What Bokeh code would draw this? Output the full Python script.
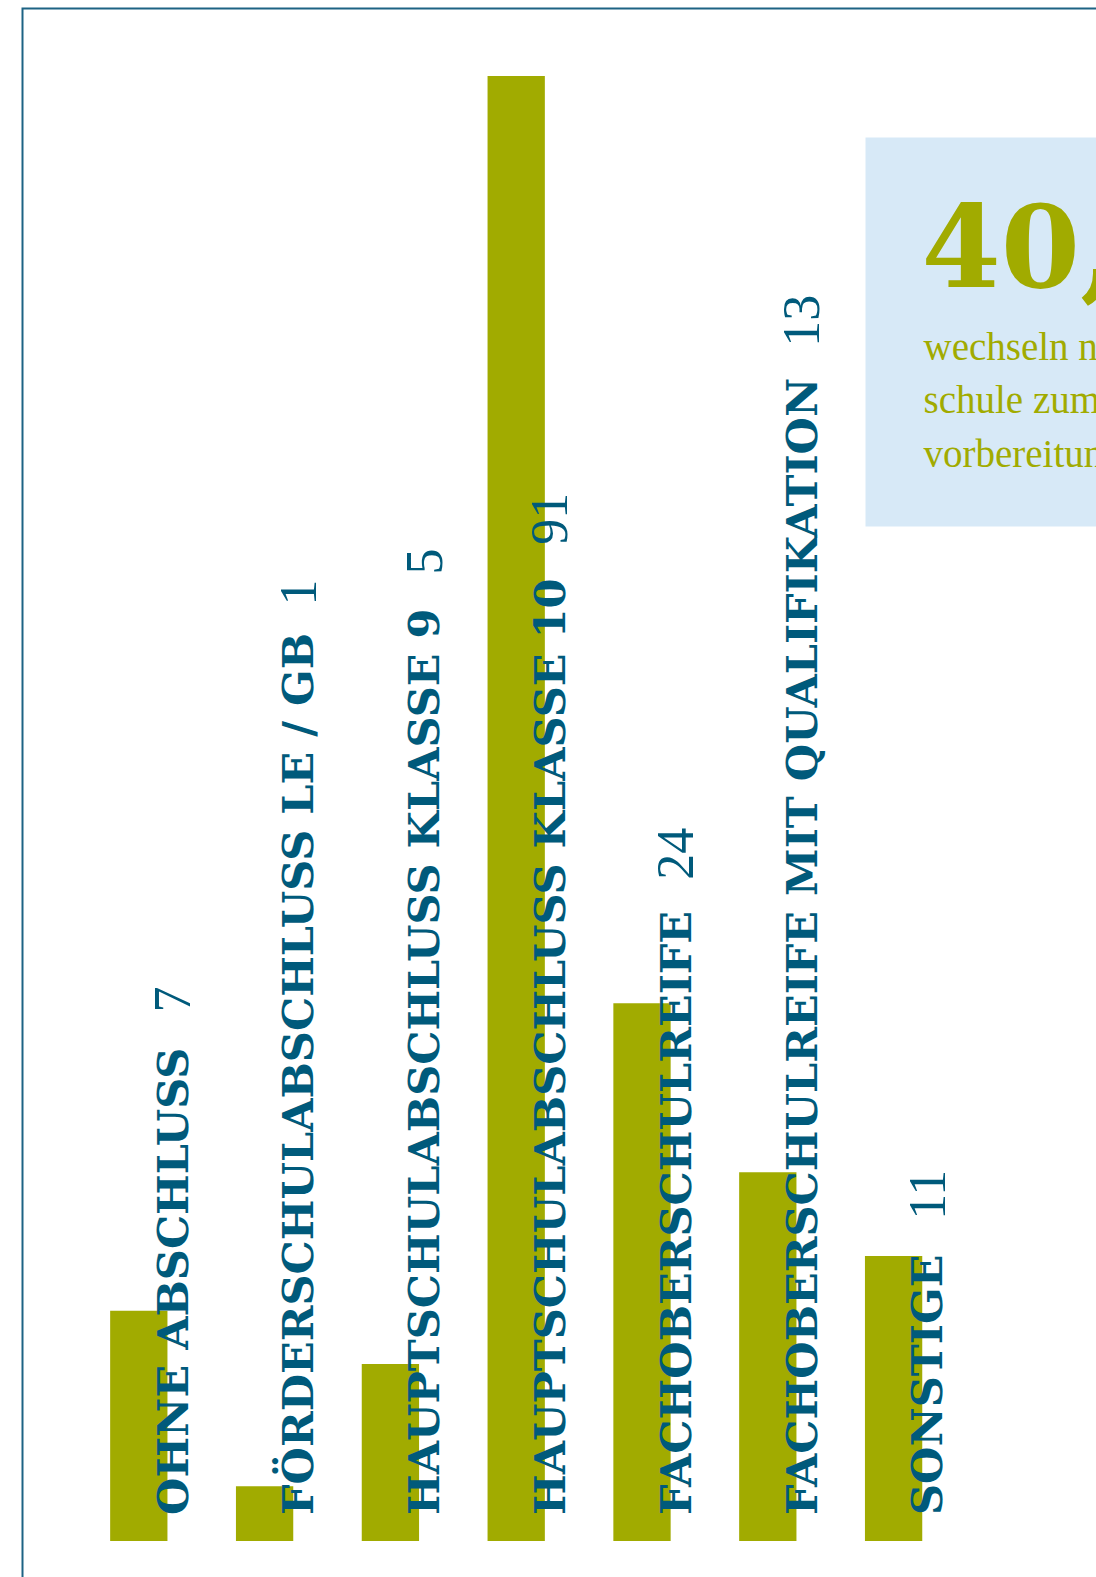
import math
from bokeh.plotting import figure
from bokeh.models import Range1d, Label
from bokeh.core.properties import value
from bokeh.embed import file_html
from bokeh.resources import INLINE

# ---- data ----
categories = [
    "OHNE ABSCHLUSS",
    "FÖRDERSCHULABSCHLUSS LE / GB",
    "HAUPTSCHULABSCHLUSS KLASSE 9",
    "HAUPTSCHULABSCHLUSS KLASSE 10",
    "FACHOBERSCHULREIFE",
    "FACHOBERSCHULREIFE MIT QUALIFIKATION",
    "SONSTIGE",
]
counts = [7, 1, 5, 91, 24, 13, 11]
bar_lengths = [14.3, 3.4, 11.0, 91.0, 33.4, 22.9, 17.7]
highlight_value = "40,"
highlight_lines = ["wechseln nach", "schule zum", "vorbereitung"]

# ---- styles / layout ----
OLIVE = "#a1ab00"
TEAL = "#005a7b"
FRAME = "#1d6384"
BOX = "#d7e9f7"

W, H = 1096, 1577
XU, X0 = 125.8, 138.3           # px per category, px of first category centre
YU, BASE = 1465.0 / 91.0, 36.5  # px per unit, baseline px above bottom

LABEL_SIZE = 43
NUM_SIZE = 52

# approximate advance widths (em) for DejaVu Serif Bold
EM = {"A": .80, "B": .80, "C": .77, "D": .86, "E": .76, "F": .72, "G": .84,
      "H": .94, "I": .47, "K": .85, "L": .72, "M": 1.1, "N": .92, "O": .85,
      "P": .75, "Q": .85, "R": .82, "S": .72, "T": .74, "U": .90, "V": .80,
      "Ö": .85, " ": .35, "/": .37}


def text_width(s, size):
    return 0.986 * sum(EM.get(c, .70) for c in s) * size


def fx(px):
    return (px - X0) / XU


def fy(py):
    return (H - py - BASE) / YU


p = figure(width=W, height=H,
           x_range=Range1d(-X0 / XU, (W - X0) / XU),
           y_range=Range1d(-BASE / YU, (H - BASE) / YU),
           output_backend="svg", toolbar_location=None,
           x_axis_location=None, y_axis_location=None,
           min_border=0, outline_line_color=None,
           background_fill_color="white", border_fill_color="white")
p.grid.visible = False

idx = list(range(len(categories)))

# frame (left and top edges of the panel)
p.line(x=[fx(22), fx(22), fx(W + 20)], y=[fy(H + 20), fy(8), fy(8)],
       line_color=FRAME, line_width=2, line_join="miter")

# highlight box
p.quad(left=fx(865), right=fx(W + 60), top=fy(137), bottom=fy(526),
       fill_color=BOX, line_color=None)

# bars
p.vbar(x=idx, top=bar_lengths, bottom=0, width=0.4555,
       fill_color=OLIVE, line_color=None)

# category labels (rotated)
LABEL_X_OFF = 33.7
LABEL_Y_OFF = -26
p.text(x=idx, y=[0] * len(idx), text=categories, angle=math.pi / 2,
       text_font=value("DejaVu Serif"), text_font_style="bold",
       text_font_size=f"{LABEL_SIZE}px", text_color=TEAL,
       text_align="left", text_baseline="alphabetic",
       x_offset=LABEL_X_OFF, y_offset=LABEL_Y_OFF)

# count labels following each category label
GAP = 40
num_offsets = [LABEL_Y_OFF - text_width(c, LABEL_SIZE) - GAP for c in categories]
p.text(x=idx, y=[0] * len(idx), text=[str(v) for v in counts], angle=math.pi / 2,
       text_font=value("Liberation Serif"), text_font_style="normal",
       text_font_size=f"{NUM_SIZE}px", text_color=TEAL,
       text_align="left", text_baseline="alphabetic",
       x_offset=LABEL_X_OFF, y_offset=num_offsets)

# highlight texts
p.add_layout(Label(x=fx(921), y=fy(244), text=highlight_value,
                   text_font="DejaVu Serif", text_font_style="bold",
                   text_font_size="114px", text_color=OLIVE,
                   text_align="left", text_baseline="alphabetic"))
for i, line in enumerate(highlight_lines):
    p.add_layout(Label(x=fx(923), y=fy(346 + i * 53.3), text=line,
                       text_font="Liberation Serif", text_font_size="39px",
                       text_color=OLIVE, text_align="left",
                       text_baseline="alphabetic"))

open("out.html", "w").write(file_html(p, INLINE))
